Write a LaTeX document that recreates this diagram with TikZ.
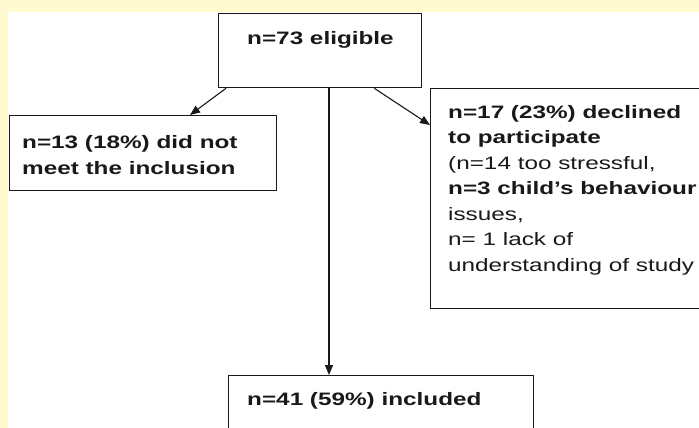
\documentclass[tikz,border=0pt]{standalone}
\usepackage{fontspec}
\setmainfont{Liberation Sans}[FakeStretch=1.35]
\usetikzlibrary{arrows.meta,calc}
\definecolor{bgyellow}{RGB}{255,250,208}
\definecolor{ink}{RGB}{25,25,25}
\begin{document}
\begin{tikzpicture}[x=1pt,y=-1pt,
  box/.style={draw=ink,line width=1.3pt,fill=white,inner sep=0pt,anchor=north west},
  txt/.style={anchor=base west,inner sep=0pt,align=left,text=ink,font=\fontsize{18}{25.5}\selectfont},
  arr/.style={draw=ink,line width=1.1pt,-{Triangle[length=10pt,width=8pt]}}]
\useasboundingbox (0,0) rectangle (699,428);
\fill[bgyellow] (0,0) rectangle (699,428);
\fill[white] (8,12) rectangle (699,428);
\begin{scope}
\clip (0,0) rectangle (699,428);
\node[box,minimum width=203pt,minimum height=74pt] (top) at (218,13) {};
\node[box,minimum width=267pt,minimum height=75pt] (left) at (9,115) {};
\node[box,minimum width=280pt,minimum height=220pt] (right) at (430,88) {};
\node[box,minimum width=305pt,minimum height=70pt] (incl) at (228,375) {};
% multi-line nodes: base anchor sits on the last line's baseline
\node[txt] (toptext) at (247,45) {\textbf{n=73 eligible}};
\node[txt,font=\fontsize{18}{26}\selectfont] (lefttext) at (22,174) {\textbf{n=13 (18\%) did not}\\\textbf{meet the inclusion}};
\node[txt] (righttext) at (448,271) {\textbf{n=17 (23\%) declined}\\\textbf{to participate}\\(n=14 too stressful,\\\textbf{n=3 child’s behaviour}\\issues,\\n= 1 lack of\\understanding of study};
\node[txt] (incltext) at (247,405) {\textbf{n=41 (59\%) included}};
\draw[arr] ($(top.south west)+(8,0)$) -- ($(left.north west)+(181,0)$);
\draw[arr] ($(top.south east)+(-48,0)$) -- ($(right.north west)+(0,37)$);
\draw[arr] ($(top.south west)+(111,0)$) -- ($(incl.north west)+(101,0)$);
\end{scope}
\end{tikzpicture}
\end{document}
